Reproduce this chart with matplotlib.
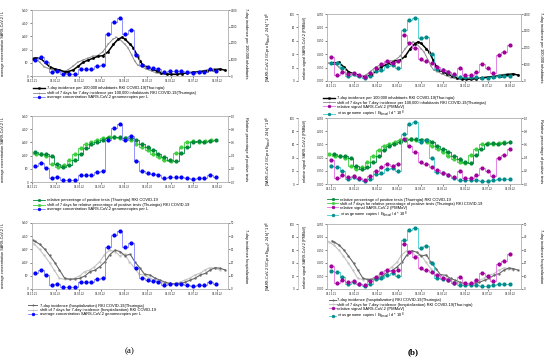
import matplotlib
matplotlib.use('Agg')
import matplotlib.pyplot as plt
from matplotlib.lines import Line2D

plt.rcParams['font.family'] = ['Liberation Sans', 'DejaVu Sans']
plt.rcParams['mathtext.fontset'] = 'custom'
plt.rcParams['mathtext.rm'] = 'Liberation Sans'
plt.rcParams['mathtext.it'] = 'Liberation Sans:italic'

# ---------------- data (days since 01.12.2021) ----------------
tick_days = [0, 31, 62, 90, 121, 151, 182, 212, 243]
tick_labels = ['01.12.21', '01.01.22', '01.02.22', '01.03.22', '01.04.22',
               '01.05.22', '01.06.22', '01.07.22', '01.08.22']

# 7-day incidence per 100,000 inhabitants (Thuringia)
inc_days = [1, 4, 10, 17, 23, 30, 36, 43, 47, 54, 61, 67, 74, 80, 87, 93, 100,
            107, 113, 118, 122, 129, 133, 138, 142, 146, 151, 157, 164, 170,
            177, 183, 190, 197, 203, 212, 221, 230, 238, 247, 254]
inc_vals = [1050, 1070, 1110, 830, 565, 425, 365, 260, 260, 365, 600, 830, 970,
            1070, 1200, 1230, 1470, 1920, 2220, 2340, 2240, 1920, 1720, 1270,
            900, 650, 565, 425, 300, 200, 120, 100, 100, 140, 180, 220, 260,
            320, 385, 425, 345]
shift_days = 7

# 7-day incidence hospitalization
hosp_days = [1, 4, 10, 17, 23, 30, 36, 43, 50, 56, 63, 70, 76, 83, 89, 96, 102,
             109, 116, 122, 129, 135, 142, 148, 155, 162, 168, 175, 181, 188,
             195, 201, 208, 214, 221, 228, 234, 241, 247, 254]
hosp_vals = [37, 36, 34, 30, 25.5, 20, 14.5, 8.1, 7.3, 7.6, 8.1, 10.1, 13.1,
             14.4, 16.9, 20.7, 25.8, 29.5, 28.3, 25.3, 26.3, 20.7, 15.7, 11.1,
             10.6, 8.1, 6.8, 5.1, 4.3, 3.8, 4.3, 5.1, 6.8, 8.1, 10.6, 11.9,
             14.4, 16.2, 15.7, 14.4]

# weekly samples, panel (a)
wa_days = [4, 12, 19, 26, 33, 41, 49, 56, 64, 71, 78, 85, 93, 100, 108, 115,
           122, 130, 137, 144, 152, 159, 166, 174, 181, 189, 196, 203, 211,
           219, 226, 234, 242]
conc_vals = [1.25, 1.45, 1.04, 0.28, 0.35, 0.13, 0.13, 0.13, 0.5, 0.5, 0.52,
             0.75, 0.83, 3.15, 4.1, 4.4, 3.18, 3.45, 1.6, 0.8, 0.7, 0.62, 0.5,
             0.3, 0.38, 0.37, 0.35, 0.33, 0.2, 0.28, 0.33, 0.53, 0.38]  # x10^7
pos_vals = [0.46, 0.43, 0.42, 0.40, 0.27, 0.22, 0.26, 0.33, 0.43, 0.52, 0.58,
            0.61, 0.63, 0.66, 0.68, 0.68, 0.67, 0.66, 0.63, 0.58, 0.53, 0.48,
            0.43, 0.38, 0.34, 0.32, 0.44, 0.53, 0.60, 0.62, 0.61, 0.62, 0.63]

# weekly samples, panel (b)
wb_days = [0, 7, 15, 22, 30, 37, 45, 53, 60, 68, 75, 83, 91, 99, 106, 114, 121,
           129, 136, 144, 152, 159, 167, 174, 182, 189, 197, 204, 212, 220, 227,
           235, 242]
pmmov_vals = [0.090, 0.023, 0.033, 0.026, 0.029, 0.021, 0.016, 0.030, 0.048,
              0.063, 0.074, 0.068, 0.075, 0.172, 0.143, 0.122, 0.082, 0.075,
              0.066, 0.052, 0.042, 0.034, 0.025, 0.048, 0.022, 0.024, 0.033,
              0.062, 0.050, 0.030, 0.097, 0.108, 0.133]
gc_vals = [27.5, 26.5, 19, 7, 11, 7, 5, 7, 15, 17, 22, 24, 20, 75.5, 91, 94,
           63.5, 66, 40, 17.5, 16, 13.5, 9, 6, 6.5, 6.5, 5.5, 5, 5, 6.5, 8, 7, 7]

# ---------------- styles ----------------
W, H = 550, 362
C_BLACK, C_GRAY = '#000000', '#8a8a8a'
C_HD, C_HL = '#666666', '#c4c4c4'
C_BLUE_L, C_BLUE_M = '#8080ff', '#0000ff'
C_G1, C_G2 = '#00883a', '#3fcf3f'
C_MAG_L, C_MAG_M = '#e070e0', '#a0009a'
C_TEAL_L, C_TEAL_M = '#40cccc', '#008b8b'
TS = 2.0
LS = 2.9


def fr(x0, y0, x1, y1):
    return [x0 / W, 1 - y1 / H, (x1 - x0) / W, (y1 - y0) / H]


def style(ax):
    for s in ax.spines.values():
        s.set_color('#b5b5b5')
        s.set_linewidth(0.5)
    ax.tick_params(labelsize=TS, length=1.3, width=0.4, pad=1.0, colors='#222222')


fig = plt.figure(figsize=(W / 100, H / 100), dpi=100)


def base_axes(rect, xlim):
    ax = fig.add_axes(rect)
    style(ax)
    ax.set_xlim(*xlim)
    ax.set_xticks(tick_days)
    ax.set_xticklabels(tick_labels)
    return ax


def shifted(days):
    return [d - shift_days for d in days]


def inc_lines(ax):
    ax.plot(shifted(inc_days), inc_vals, color=C_GRAY, lw=0.7, marker='+',
            ms=1.2, mew=0.3, zorder=2)
    ax.plot(inc_days, inc_vals, color=C_BLACK, lw=1.1, marker='s', ms=0.9,
            zorder=3)


def hosp_lines(ax):
    ax.plot(shifted(hosp_days), hosp_vals, color=C_HL, lw=0.8, marker='.',
            ms=1.3, zorder=2)
    ax.plot(hosp_days, hosp_vals, color=C_HD, lw=0.8, marker='.', ms=1.3,
            zorder=3)


def step(ax, x, y, cl, cm, z=4):
    ax.plot(x, y, color=cl, lw=0.6, drawstyle='steps-mid', zorder=z)
    ax.plot(x, y, ls='none', marker='o', ms=2.0, mfc=cm, mec=cm, zorder=z + 1)


def h(color, lw, marker, ms, mc=None):
    mc = mc or color
    return Line2D([], [], color=color, lw=lw, marker=marker, ms=ms, mfc=mc,
                  mec=mc, mew=0.4)


def legend(handles, labels, x, y, hl_px, tx_px, lsp=0.12):
    fig.legend(handles, labels, loc='upper left',
               bbox_to_anchor=(x / W, 1 - y / H), fontsize=LS, frameon=False,
               borderpad=0, borderaxespad=0, labelspacing=lsp,
               handlelength=hl_px * 0.72 / LS,
               handletextpad=(tx_px - x - hl_px) * 0.72 / LS)


# ---------------- panel (a) ----------------
conc_ticks = [0, 1, 2, 3, 4, 5]
conc_labels = ['0', '10\u2077', '2x10\u2077', '3x10\u2077', '4x10\u2077', '5x10\u2077']
a_rows = [(10, 76), (116, 182), (223, 289)]
a_right = [('7-day incidence per 100,000 inhabitants', (0, 4000), [0, 1000, 2000, 3000, 4000], None),
           ('Relative percentage of positive tests', (0, 1.0), [0, 0.2, 0.4, 0.6, 0.8, 1.0],
            ['0.0', '0.2', '0.4', '0.6', '0.8', '1.0']),
           ('7-day incidence hospitalization', (0, 50), [0, 10, 20, 30, 40, 50], None)]

for i, (y0, y1) in enumerate(a_rows):
    ax = base_axes(fr(32, y0, 228, y1), (0, 257.5))
    ax.set_ylim(0, 5)
    ax.set_yticks(conc_ticks)
    ax.set_yticklabels(conc_labels)
    ax.set_ylabel('average concentration SARS-CoV-2 / L', fontsize=2.7)
    ax.yaxis.set_label_coords(-0.14, 0.5)
    ar = ax.twinx()
    style(ar)
    lab, lim, tks, tl = a_right[i]
    ar.set_ylim(*lim)
    ar.set_yticks(tks)
    if tl:
        ar.set_yticklabels(tl)
    ar.set_ylabel(lab, fontsize=2.9, rotation=270)
    ar.yaxis.set_label_coords(1.10, 0.5)
    ax.set_zorder(ar.get_zorder() + 1)
    ax.patch.set_visible(False)
    if i == 0:
        inc_lines(ar)
    elif i == 1:
        step(ar, wa_days, pos_vals, C_G1, C_G1, z=3)
        step(ar, shifted(wa_days), pos_vals, C_G2, C_G2, z=2)
    else:
        hosp_lines(ar)
    step(ax, wa_days, conc_vals, C_BLUE_L, C_BLUE_M, z=4)

blue_h = h(C_BLUE_L, 0.6, 'o', 2.0, C_BLUE_M)
legend([h(C_BLACK, 1.0, 's', 1.2), h(C_GRAY, 0.6, '+', 1.5), blue_h],
       ['7-day incidence per 100,000 inhabitants RKI COVID-19(Thuringia)',
        'shift of 7 days for 7-day incidence per 100,000 inhabitants RKI COVID-19(Thuringia)',
        'average concentration SARS-CoV-2 genomecopies per L'], 33, 86.5, 12, 47)
legend([h(C_G1, 0.6, 'o', 1.8), h(C_G2, 0.6, 'o', 1.8), blue_h],
       ['relative percentage of positive tests (Thuringia) RKI COVID-19',
        'shift of 7 days for relative percentage of positive tests (Thuringia) RKI COVID-19',
        'average concentration SARS-CoV-2 genomecopies per L'], 33, 198.5, 12, 47)
legend([h(C_HD, 0.7, '.', 2.0), h(C_HL, 0.7, '.', 2.0), blue_h],
       ['7-day incidence (hospitalization) RKI COVID-19(Thuringia)',
        'shift of 7 days for 7-day incidence (hospitalization) RKI COVID-19',
        'average concentration SARS-CoV-2 genomecopies per L'], 28, 303.5, 9, 40)

# ---------------- panel (b) ----------------
b_rows = [(14, 81), (118, 184), (224, 289)]
pm_ticks = [0, 0.05, 0.10, 0.15, 0.20, 0.25]
pm_labels = ['0.000', '0.050', '0.100', '0.150', '0.200', '0.250']
gc_ticks = [0, 20, 40, 60, 80, 100]

for i, (y0, y1) in enumerate(b_rows):
    ax = base_axes(fr(327, y0, 521, y1), (-6, 257.5))
    ax.set_ylim(0, 0.25)
    ax.set_yticks(pm_ticks)
    ax.set_yticklabels(pm_labels)
    ax.set_ylabel('relative signal SARS-CoV-2 (PMMoV)', fontsize=2.7)
    ax.yaxis.set_label_coords(-0.105, 0.5)
    ao = ax.twinx()
    style(ao)
    ao.set_ylim(0, 100)
    ao.set_yticks(gc_ticks)
    ao.yaxis.set_ticks_position('left')
    ao.yaxis.set_label_position('left')
    ao.spines['left'].set_position(('axes', -0.15))
    ao.spines['right'].set_visible(False)
    ao.spines['top'].set_visible(False)
    ao.spines['bottom'].set_visible(False)
    ao.set_ylabel(r'[SARS-CoV-2 GC pro E$_{\mathrm{Nmod}}$ / 24 h] * 10$^{8}$', fontsize=2.7)
    ao.yaxis.set_label_coords(-0.275, 0.5)
    ar = ax.twinx()
    style(ar)
    lab, lim, tks, tl = a_right[i]
    ar.set_ylim(*lim)
    ar.set_yticks(tks)
    if tl:
        ar.set_yticklabels(tl)
    ar.set_ylabel(lab, fontsize=2.9, rotation=270)
    ar.yaxis.set_label_coords(1.113, 0.5)
    if i == 0:
        inc_lines(ar)
    elif i == 1:
        step(ar, wa_days, pos_vals, C_G1, C_G1, z=3)
        step(ar, shifted(wa_days), pos_vals, C_G2, C_G2, z=2)
    else:
        hosp_lines(ar)
    ax.set_zorder(ar.get_zorder() + 2)
    ax.patch.set_visible(False)
    ao.set_zorder(ar.get_zorder() + 1)
    ao.patch.set_visible(False)
    step(ax, wb_days, pmmov_vals, C_MAG_L, C_MAG_M, z=4)
    step(ao, wb_days, gc_vals, C_TEAL_L, C_TEAL_M, z=4)

mag_h = h(C_MAG_L, 0.6, 'o', 2.0, C_MAG_M)
teal_h = h(C_TEAL_L, 0.6, 'o', 2.0, C_TEAL_M)
gc_label = r'virus genome copies / E$_{\mathrm{Nmod}}$ / d * 10$^{8}$'
legend([h(C_BLACK, 1.0, 's', 1.2), h(C_GRAY, 0.6, '+', 1.5), mag_h, teal_h],
       ['7-day incidence per 100,000 inhabitants RKI COVID-19(Thuringia)',
        'shift of 7 days for 7-day incidence per 100,000 inhabitants RKI COVID-19(Thuringia)',
        'relative signal SARS-CoV-2 (PMMoV)', gc_label], 323, 96.5, 12, 337, 0.02)
legend([h(C_G1, 0.6, 'o', 1.8), h(C_G2, 0.6, 'o', 1.8), mag_h, teal_h],
       ['relative percentage of positive tests (Thuringia) RKI COVID-19',
        'shift of 7 days for relative percentage of positive tests (Thuringia) RKI COVID-19',
        'relative signal SARS-CoV-2 (PMMoV)', gc_label], 327, 197.5, 11, 340, 0.05)
legend([h(C_HD, 0.7, '.', 2.0), h(C_HL, 0.7, '.', 2.0), mag_h, teal_h],
       ['7-day incidence (hospitalization) RKI COVID-19(Thuringia)',
        'shift of 7 days for 7-day incidence (hospitalization) RKI COVID-19(Thuringia)',
        'relative signal SARS-CoV-2 (PMMoV)', gc_label], 329, 298.5, 7, 337, 0.05)

fig.text(130 / W, 1 - 351 / H, '(a)', fontsize=6.5, family='Liberation Serif',
         ha='center', va='center')
fig.text(413 / W, 1 - 352 / H, '(b)', fontsize=6.5, family='Liberation Serif',
         weight='bold', ha='center', va='center')

fig.savefig('out.png', dpi=100)
